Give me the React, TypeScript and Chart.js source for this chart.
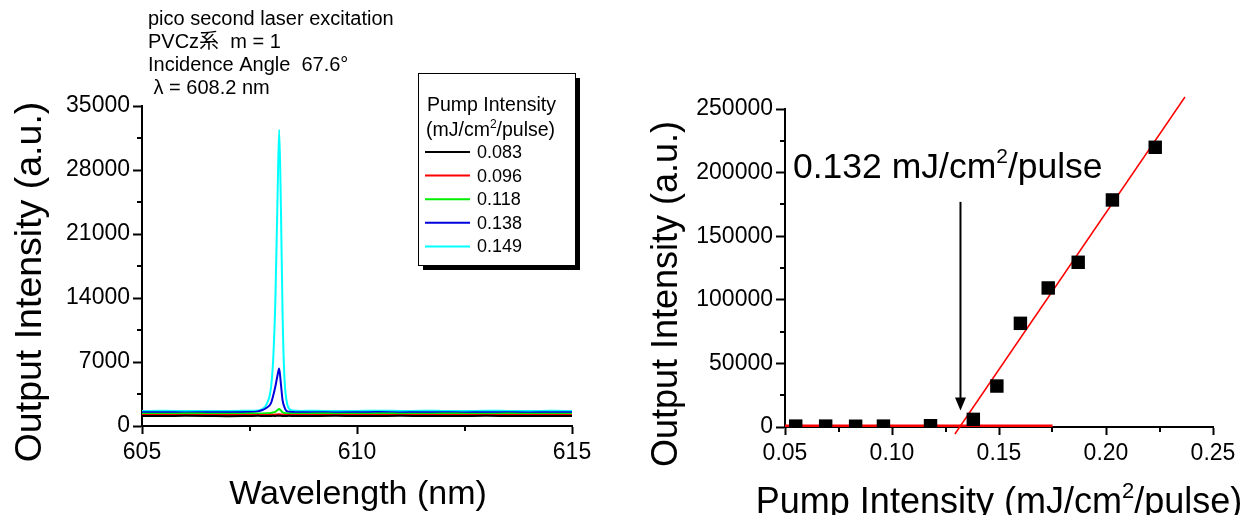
import React, { useEffect, useRef } from 'react';
import { Chart, registerables } from 'chart.js';

Chart.register(...registerables);

// ---------- Left chart data (spectra) ----------
const wavelengths = [
  605.0, 605.5, 606.0, 606.5, 607.0, 607.5, 607.7, 607.8, 607.9, 608.0, 608.05, 608.1, 608.15, 608.19,
  608.23, 608.27, 608.31, 608.36, 608.42, 608.5, 608.7, 609.0, 609.5, 610.0, 610.5, 611.0, 611.5, 612.0,
  612.5, 613.0, 613.5, 614.0, 614.5, 615.0,
];
const pumpLabels = ['0.083', '0.096', '0.118', '0.138', '0.149'];
const seriesColors = ['#000000', '#ff0000', '#00ee00', '#0000dd', '#00ffff'];
const spectrum083 = [
  1100, 1090, 1110, 1100, 1080, 1100, 1110, 1100, 1090, 1100, 1110, 1100, 1120, 1130,
  1110, 1100, 1090, 1100, 1110, 1100, 1090, 1100, 1110, 1090, 1100, 1110, 1100, 1090,
  1100, 1110, 1100, 1090, 1100, 1100,
];
const spectrum096 = [
  1200, 1210, 1190, 1200, 1210, 1200, 1190, 1210, 1200, 1220, 1230, 1250, 1270, 1290,
  1260, 1230, 1210, 1200, 1190, 1200, 1210, 1200, 1190, 1210, 1200, 1190, 1200, 1210,
  1200, 1190, 1200, 1210, 1200, 1200,
];
const spectrum118 = [
  1350, 1340, 1360, 1350, 1340, 1360, 1370, 1380, 1400, 1430, 1480, 1550, 1750, 1850,
  1700, 1500, 1420, 1380, 1360, 1350, 1340, 1360, 1350, 1340, 1360, 1350, 1340, 1360,
  1350, 1340, 1360, 1350, 1340, 1350,
];
const spectrum138 = [
  1500, 1510, 1490, 1500, 1510, 1520, 1600, 1750, 2000, 2500, 3300, 4300, 5500, 6300,
  4600, 2800, 2100, 1650, 1560, 1520, 1500, 1510, 1490, 1500, 1520, 1490, 1510, 1500,
  1490, 1510, 1500, 1490, 1510, 1500,
];
const spectrum149 = [
  1640, 1660, 1630, 1650, 1640, 1660, 1700, 1850, 2400, 4200, 7200, 13500, 24500, 32400,
  24000, 12000, 5500, 2800, 1900, 1700, 1650, 1660, 1640, 1650, 1670, 1640, 1660, 1650,
  1640, 1660, 1650, 1640, 1660, 1650,
];
const spectra = [spectrum083, spectrum096, spectrum118, spectrum138, spectrum149];

const leftXMin = 605;
const leftXMax = 615;
const leftXStep = 5;
const leftXMinor = [607.5, 612.5];
const leftYMax = 35000;
const leftYStep = 7000;
const leftYMinor = [3500, 10500, 17500, 24500, 31500];

const infoLines = ['pico second laser excitation', 'PVCz系  m = 1', 'Incidence Angle  67.6°', ' λ = 608.2 nm'];
const legendTitle = ['Pump Intensity', '(mJ/cm²/pulse)'];

// ---------- Right chart data (threshold) ----------
const pumpIntensity = [0.055, 0.069, 0.083, 0.096, 0.118, 0.138, 0.149, 0.160, 0.173, 0.187, 0.203, 0.223];
const outputIntensity = [700, 700, 600, 700, 1000, 6000, 32200, 81500, 109300, 129500, 178500, 219900];
const fitLineX = [0.1294, 0.2369];
const fitLineY = [-5500, 259400];
const baseLineX = [0.05, 0.175];
const baseLineY = [900, 900];
const thresholdValue = 0.132;
const arrowYRange = [177000, 13000];

const rightXMin = 0.05;
const rightXMax = 0.25;
const rightXStep = 0.05;
const rightXMinor = [0.075, 0.125, 0.175, 0.225];
const rightYMax = 250000;
const rightYStep = 50000;
const rightYMinor = [25000, 75000, 125000, 175000, 225000];

const TICK_FONT = '"Liberation Sans", Arial, sans-serif';
const TITLE_FONT = '"Liberation Sans", "Noto Sans CJK JP", sans-serif';
const TEXT_FONT = '"Liberation Sans", "Noto Sans CJK JP", sans-serif';

// draw a string where "²" is rendered as a raised small "2"
function drawRich(ctx: CanvasRenderingContext2D, text: string, x: number, y: number, size: number, family: string, align: 'left' | 'center') {
  const parts = text.split('²');
  const supSize = Math.round(size * 0.6);
  ctx.font = `${size}px ${family}`;
  const widths = parts.map((p) => ctx.measureText(p).width);
  ctx.font = `${supSize}px ${family}`;
  const supW = ctx.measureText('2').width;
  const total = widths.reduce((a, b) => a + b, 0) + supW * (parts.length - 1);
  let cx = align === 'center' ? x - total / 2 : x;
  ctx.textAlign = 'left';
  ctx.textBaseline = 'alphabetic';
  parts.forEach((p, i) => {
    ctx.font = `${size}px ${family}`;
    ctx.fillText(p, cx, y);
    cx += widths[i];
    if (i < parts.length - 1) {
      ctx.font = `${supSize}px ${family}`;
      ctx.fillText('2', cx, y - size * 0.42);
      cx += supW;
    }
  });
}

function drawMinor(chart: any, xs: number[], ys: number[], len: number) {
  const ctx = chart.ctx as CanvasRenderingContext2D;
  const xScale = chart.scales.x;
  const yScale = chart.scales.y;
  const area = chart.chartArea;
  ctx.save();
  ctx.strokeStyle = '#000';
  ctx.lineWidth = 2;
  ctx.beginPath();
  xs.forEach((v) => {
    const px = Math.round(xScale.getPixelForValue(v));
    ctx.moveTo(px, area.bottom);
    ctx.lineTo(px, area.bottom + len);
  });
  ys.forEach((v) => {
    const py = Math.round(yScale.getPixelForValue(v));
    ctx.moveTo(area.left, py);
    ctx.lineTo(area.left - len, py);
  });
  ctx.stroke();
  ctx.restore();
}

function yTitle(ctx: CanvasRenderingContext2D, text: string, cx: number, cy: number, size: number) {
  ctx.save();
  ctx.fillStyle = '#000';
  ctx.translate(cx, cy);
  ctx.rotate(-Math.PI / 2);
  drawRich(ctx, text, 0, size * 0.36, size, TITLE_FONT, 'center');
  ctx.restore();
}

function xTitle(ctx: CanvasRenderingContext2D, text: string, cx: number, cy: number, size: number) {
  ctx.save();
  ctx.fillStyle = '#000';
  drawRich(ctx, text, cx, cy + size * 0.36, size, TITLE_FONT, 'center');
  ctx.restore();
}

function scaleCommon(min: number, max: number, step: number, isY: boolean, size: number, fmt: (v: number) => string) {
  return {
    type: 'linear',
    min,
    max,
    ticks: {
      stepSize: step,
      color: '#000',
      font: { family: TICK_FONT, size: 23 },
      padding: isY ? 3 : 5,
      callback: (v: any) => fmt(Number(v)),
      maxRotation: 0,
      autoSkip: false,
    },
    grid: {
      drawOnChartArea: false,
      drawTicks: true,
      tickLength: isY ? 9 : 8,
      tickWidth: 2,
      tickColor: '#000',
    },
    border: { display: true, color: '#000', width: 2 },
    title: { display: false },
    afterFit: (scale: any) => {
      if (isY) scale.width = size;
      else scale.height = size;
    },
  };
}

const leftPlugin = {
  id: 'leftDecor',
  afterDraw(chart: any) {
    const ctx = chart.ctx as CanvasRenderingContext2D;
    drawMinor(chart, leftXMinor, leftYMinor, 5);
    // info text
    ctx.save();
    ctx.fillStyle = '#000';
    ctx.font = `20px ${TEXT_FONT}`;
    ctx.textAlign = 'left';
    ctx.textBaseline = 'middle';
    infoLines.forEach((t, i) => ctx.fillText(t, 148, 19 + i * 23));
    ctx.restore();
    // legend box
    const bx = 418, by = 73, bw = 157, bh = 192;
    ctx.save();
    ctx.fillStyle = '#000';
    ctx.fillRect(bx + 5, by + 5, bw, bh);
    ctx.fillStyle = '#fff';
    ctx.fillRect(bx, by, bw, bh);
    ctx.strokeStyle = '#000';
    ctx.lineWidth = 1;
    ctx.strokeRect(bx + 0.5, by + 0.5, bw, bh);
    ctx.fillStyle = '#000';
    drawRich(ctx, legendTitle[0], 427, 111, 19.5, TEXT_FONT, 'left');
    drawRich(ctx, legendTitle[1], 426, 136, 19.5, TEXT_FONT, 'left');
    chart.data.datasets.forEach((ds: any, i: number) => {
      const yy = 152 + i * 23.6;
      ctx.strokeStyle = ds.borderColor;
      ctx.lineWidth = 2;
      ctx.beginPath();
      ctx.moveTo(425, yy);
      ctx.lineTo(470, yy);
      ctx.stroke();
      ctx.fillStyle = '#000';
      ctx.font = `18px ${TEXT_FONT}`;
      ctx.textBaseline = 'middle';
      ctx.textAlign = 'left';
      ctx.fillText(ds.label, 477, yy + 1);
    });
    ctx.restore();
    yTitle(ctx, 'Output Intensity (a.u.)', 27, 282, 37.5);
    xTitle(ctx, 'Wavelength (nm)', 358, 492, 34);
  },
};

const rightPlugin = {
  id: 'rightDecor',
  afterDraw(chart: any) {
    const ctx = chart.ctx as CanvasRenderingContext2D;
    drawMinor(chart, rightXMinor, rightYMinor, 5);
    const xs = chart.scales.x;
    const ys = chart.scales.y;
    // arrow
    const ax = xs.getPixelForValue(thresholdValue);
    const ay0 = ys.getPixelForValue(arrowYRange[0]);
    const ay1 = ys.getPixelForValue(arrowYRange[1]);
    ctx.save();
    ctx.strokeStyle = '#000';
    ctx.fillStyle = '#000';
    ctx.lineWidth = 2;
    ctx.beginPath();
    ctx.moveTo(ax, ay0);
    ctx.lineTo(ax, ay1 - 8);
    ctx.stroke();
    ctx.beginPath();
    ctx.moveTo(ax, ay1);
    ctx.lineTo(ax - 5.5, ay1 - 13);
    ctx.lineTo(ax + 5.5, ay1 - 13);
    ctx.closePath();
    ctx.fill();
    // annotation
    drawRich(ctx, `${thresholdValue.toFixed(3)} mJ/cm²/pulse`, 793 - 620, 178, 35.5, TITLE_FONT, 'left');
    ctx.restore();
    yTitle(ctx, 'Output Intensity (a.u.)', 44, 294, 36);
    xTitle(ctx, 'Pump Intensity (mJ/cm²/pulse)', 379, 500, 36);
  },
};

function leftConfig(): any {
  return {
    type: 'line',
    data: {
      datasets: spectra.map((s, i) => ({
        label: pumpLabels[i],
        data: wavelengths.map((w, j) => ({ x: w, y: s[j] })),
        borderColor: seriesColors[i],
        backgroundColor: seriesColors[i],
        borderWidth: 2,
        pointRadius: 0,
        cubicInterpolationMode: 'monotone',
      })),
    },
    options: {
      responsive: false,
      animation: false,
      layout: { padding: { left: 0, right: 48, top: 106, bottom: 0 } },
      plugins: { legend: { display: false }, tooltip: { enabled: false }, title: { display: false } },
      scales: {
        x: scaleCommon(leftXMin, leftXMax, leftXStep, false, 89, (v) => String(v)),
        y: scaleCommon(0, leftYMax, leftYStep, true, 142, (v) => String(v)),
      },
    },
    plugins: [leftPlugin],
  };
}

function rightConfig(): any {
  return {
    type: 'scatter',
    data: {
      datasets: [
        {
          label: 'Output Intensity',
          data: pumpIntensity.map((x, i) => ({ x, y: outputIntensity[i] })),
          pointStyle: 'rect',
          pointRadius: 9.5,
          backgroundColor: '#000',
          borderColor: '#000',
          borderWidth: 0,
        },
        {
          type: 'line',
          label: 'base',
          data: baseLineX.map((x, i) => ({ x, y: baseLineY[i] })),
          borderColor: '#ff0000',
          borderWidth: 2.5,
          pointRadius: 0,
          clip: false,
        },
        {
          type: 'line',
          label: 'fit',
          data: fitLineX.map((x, i) => ({ x, y: fitLineY[i] })),
          borderColor: '#ff0000',
          borderWidth: 1.5,
          pointRadius: 0,
          clip: false,
        },
      ],
    },
    options: {
      responsive: false,
      animation: false,
      layout: { padding: { left: 0, right: 31, top: 109, bottom: 0 } },
      plugins: { legend: { display: false }, tooltip: { enabled: false }, title: { display: false } },
      scales: {
        x: scaleCommon(rightXMin, rightXMax, rightXStep, false, 88, (v) => v.toFixed(2)),
        y: scaleCommon(0, rightYMax, rightYStep, true, 165, (v) => String(Math.round(v))),
      },
    },
    plugins: [rightPlugin],
  };
}

function ChartCanvas({ make, left, width }: { make: () => any; left: number; width: number }) {
  const ref = useRef<HTMLCanvasElement>(null);
  useEffect(() => {
    const chart = new Chart(ref.current as HTMLCanvasElement, make());
    return () => chart.destroy();
  }, []);
  return (
    <canvas
      ref={ref}
      width={width}
      height={515}
      style={{ position: 'absolute', left, top: 0, width, height: 515, display: 'block' }}
    />
  );
}

export default function App() {
  return (
    <div style={{ position: 'fixed', left: 0, top: 0, width: 1244, height: 515, overflow: 'hidden', background: '#fff' }}>
      <ChartCanvas make={leftConfig} left={0} width={620} />
      <ChartCanvas make={rightConfig} left={620} width={624} />
    </div>
  );
}
